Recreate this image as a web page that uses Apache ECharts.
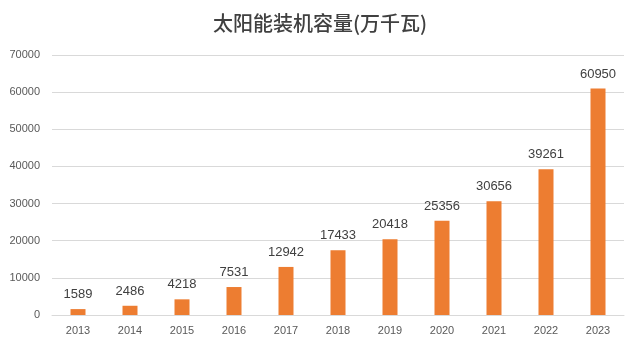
<!DOCTYPE html>
<html><head><meta charset="utf-8">
<script src="https://cdn.jsdelivr.net/npm/echarts@6/dist/echarts.min.js"></script>
<style>html,body{margin:0;padding:0;background:#fff}#c{width:640px;height:349px}</style>
</head><body><div id="c"></div>
<script>
const titleText = '太阳能装机容量(万千瓦)';
const years = ['2013','2014','2015','2016','2017','2018','2019','2020','2021','2022','2023'];
const capacity = [1589,2486,4218,7531,12942,17433,20418,25356,30656,39261,60950];
const chart = echarts.init(document.getElementById('c'), null, {renderer:'canvas'});
chart.setOption({
  animation:false,
  backgroundColor:'#fff',
  title:{text:titleText,left:'center',top:8,textStyle:{fontFamily:'Noto Sans CJK SC',fontSize:20,fontWeight:500,color:'#404040'}},
  grid:{left:52,right:16,top:55,bottom:34},
  xAxis:{type:'category',data:years,axisTick:{show:false},
    axisLine:{lineStyle:{color:'#d9d9d9'}},
    axisLabel:{color:'#595959',fontSize:11,fontFamily:'Liberation Sans',margin:10}},
  yAxis:{type:'value',min:0,max:70000,interval:10000,
    axisLabel:{color:'#595959',fontSize:11,fontFamily:'Liberation Sans',margin:12,formatter:v=>String(v)},
    splitLine:{lineStyle:{color:'#d9d9d9'}}},
  series:[{type:'bar',data:capacity,barWidth:15,itemStyle:{color:'#ED7D31'},
    label:{show:true,position:'top',distance:8,color:'#404040',fontSize:13,fontFamily:'Liberation Sans'}}]
});
</script></body></html>
